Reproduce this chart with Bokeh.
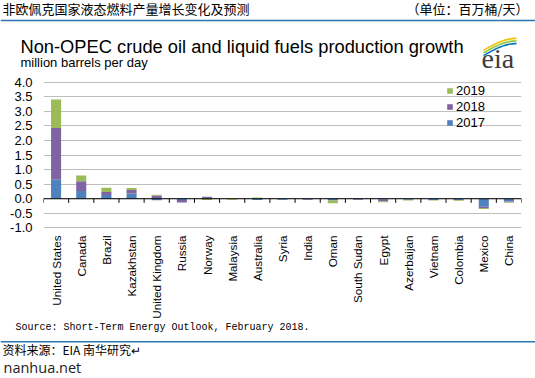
import math
import numpy as np
from bokeh.plotting import figure
from bokeh.layouts import column, row
from bokeh.models import (Range1d, FixedTicker, NumeralTickFormatter, Span, Label,
                          Legend, LegendItem, ColumnDataSource)
from bokeh.embed import file_html
from bokeh.resources import INLINE

countries = ["United States", "Canada", "Brazil", "Kazakhstan", "United Kingdom", "Russia",
             "Norway", "Malaysia", "Australia", "Syria", "India", "Oman", "South Sudan",
             "Egypt", "Azerbaijan", "Vietnam", "Colombia", "Mexico", "China"]
years = ["2017", "2018", "2019"]
y2017 = [0.67, 0.27, 0.13, 0.18, -0.05, -0.04, 0.00, 0.00, -0.04, -0.03, 0.00, -0.04, 0.00,
         -0.02, -0.03, -0.04, -0.04, -0.27, -0.09]
y2018 = [1.76, 0.33, 0.10, 0.12, 0.11, -0.09, 0.07, 0.00, 0.01, 0.00, -0.03, -0.02, -0.03,
         -0.07, 0.00, 0.00, 0.00, -0.05, -0.03]
y2019 = [0.97, 0.20, 0.15, 0.07, 0.03, 0.00, -0.04, -0.03, 0.03, 0.00, 0.00, -0.09, 0.00,
         -0.03, -0.03, -0.02, -0.03, -0.03, -0.02]
y_ticks = [-1.0, -0.5, 0.0, 0.5, 1.0, 1.5, 2.0, 2.5, 3.0, 3.5, 4.0]
colors = {"2017": "#4F81BD", "2018": "#8064A2", "2019": "#9BBB59"}

W = 535
H_HEAD, H_CHART, H_FOOT = 74, 247, 57
BLUE_LINE = "#2E74B5"


def blank(height):
    f = figure(width=W, height=height, output_backend="svg", toolbar_location=None,
               x_range=Range1d(0, W), y_range=Range1d(height, 0),
               x_axis_type=None, y_axis_type=None, sizing_mode="fixed",
               min_border=0, min_border_left=0, min_border_right=0,
               min_border_top=0, min_border_bottom=0)
    f.grid.visible = False
    f.outline_line_color = None
    f.background_fill_color = "white"
    f.border_fill_color = "white"
    return f


def label(f, x, y, text, size, font="Liberation Sans", align="left", color="black"):
    f.add_layout(Label(x=x, y=y, text=text, text_font=font, text_font_size=size,
                       text_align=align, text_baseline="middle", text_color=color))


# ---------------- header ----------------
head = blank(H_HEAD)
label(head, 2, 8, "非欧佩克国家液态燃料产量增长变化及预测", "13px", font="Noto Sans CJK SC")
label(head, 528, 8, "（单位：百万桶/天）", "13px", font="Noto Sans CJK SC", align="right")
head.quad(left=[0], right=[W], top=[19.2], bottom=[20.8], fill_color=BLUE_LINE, line_color=None)
label(head, 20, 45.5, "Non-OPEC crude oil and liquid fuels production growth", "18.3px")
label(head, 20, 61.5, "million barrels per day", "13px")
arc_t = np.linspace(0, 1, 24)
for k, col in enumerate(["#F2C200", "#8DC63F", "#0072BC"]):
    xa = 483 + 33 * arc_t
    ya = 49 + 2.6 * k - 12 * np.sin(arc_t * math.pi / 2)
    head.patch(x=np.concatenate([xa, xa[::-1]]), y=np.concatenate([ya, (ya + 1.7)[::-1]]),
               fill_color=col, line_color=None)
label(head, 481, 58, "eia", "28px", font="Liberation Serif", color="#3C3C3C")

# ---------------- chart ----------------
FL, FR, FT, FB = 43, 521, 7, 91
p = figure(width=W, height=H_CHART, output_backend="svg", toolbar_location=None,
           x_range=Range1d(-0.5, len(countries) - 0.5), y_range=Range1d(-1.02, 4.02),
           sizing_mode="fixed",
           min_border_left=FL, min_border_right=W - FR, min_border_top=FT,
           min_border_bottom=FB)
p.outline_line_color = None
p.background_fill_color = "white"
p.border_fill_color = "white"

xs = np.arange(len(countries))
pos = np.zeros(len(countries))
neg = np.zeros(len(countries))
renderers = {}
for yr, vals in zip(years, [y2017, y2018, y2019]):
    v = np.array(vals)
    bottom = np.where(v >= 0, pos, neg + v)
    top = np.where(v >= 0, pos + v, neg)
    pos = np.where(v >= 0, pos + v, pos)
    neg = np.where(v < 0, neg + v, neg)
    src = ColumnDataSource(dict(x=xs, bottom=bottom, top=top))
    renderers[yr] = p.vbar(x="x", bottom="bottom", top="top", width=0.4, source=src,
                           fill_color=colors[yr], line_color=None)

p.xgrid.grid_line_color = None
p.ygrid.ticker = FixedTicker(ticks=y_ticks)
p.ygrid.grid_line_color = "#BEBEBE"
p.ygrid.grid_line_width = 1

for ax in (p.xaxis, p.yaxis):
    ax.axis_line_color = None
    ax.major_tick_line_color = None
    ax.minor_tick_line_color = None
    ax.major_tick_out = 0
    ax.major_tick_in = 0
    ax.minor_tick_out = 0
    ax.minor_tick_in = 0
    ax.major_label_text_font = "Liberation Sans"
    ax.major_label_text_color = "black"

p.yaxis.ticker = FixedTicker(ticks=y_ticks)
p.yaxis.formatter = NumeralTickFormatter(format="0.0")
p.yaxis.major_label_standoff = 11
p.yaxis.major_label_text_font_size = "13px"

p.xaxis.ticker = FixedTicker(ticks=list(range(len(countries))))
p.xaxis.major_label_overrides = {i: c for i, c in enumerate(countries)}
p.xaxis.major_label_orientation = math.pi / 2
p.xaxis.major_label_standoff = 7
p.xaxis.major_label_text_font_size = "11.7px"

p.add_layout(Span(location=0, dimension="width", line_color="black", line_width=1))
bounds = [i - 0.5 for i in range(len(countries) + 1)]
p.segment(x0=bounds, y0=[0] * len(bounds), x1=bounds, y1=[-0.14] * len(bounds),
          line_color="black", line_width=1)

legend = Legend(items=[LegendItem(label=yr, renderers=[renderers[yr]]) for yr in ["2019", "2018", "2017"]],
                location=(403, 98), glyph_width=7, glyph_height=7, label_height=16,
                label_standoff=3, spacing=0, padding=0, margin=0,
                label_text_font="Liberation Sans", label_text_font_size="13px",
                label_text_color="black", background_fill_alpha=0, border_line_alpha=0)
p.add_layout(legend)

# ---------------- footer ----------------
foot = blank(H_FOOT)
label(foot, 15, 6, "Source: Short-Term Energy Outlook, February 2018.", "10px",
      font="Liberation Mono")
foot.quad(left=[0], right=[W], top=[19.5], bottom=[21.1], fill_color=BLUE_LINE, line_color=None)
label(foot, 2, 28, "资料来源：EIA 南华研究↵", "12px", font="Noto Sans CJK SC")
label(foot, 3, 46, "nanhua.net", "14.5px", font="Open Sans", color="#222222")

layout = column(row(head, width=W, height=H_HEAD, sizing_mode="fixed"),
                row(p, width=W, height=H_CHART, sizing_mode="fixed"),
                row(foot, width=W, height=H_FOOT, sizing_mode="fixed"),
                width=W, height=H_HEAD + H_CHART + H_FOOT, sizing_mode="fixed", spacing=0)
open("out.html", "w").write(file_html(layout, INLINE))
